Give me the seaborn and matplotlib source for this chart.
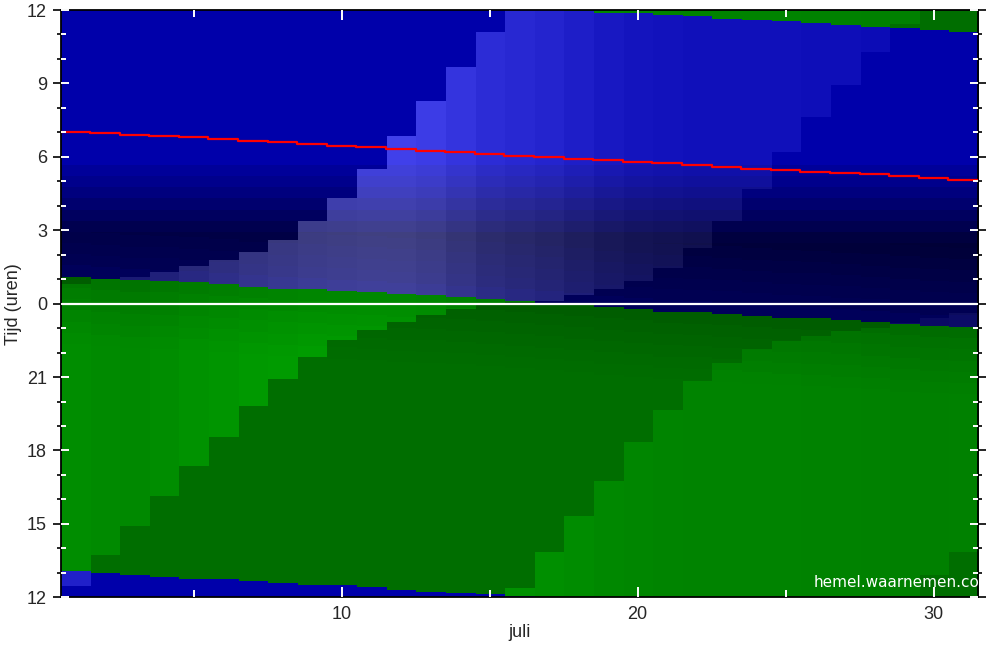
import numpy as np
import seaborn as sns
import matplotlib.pyplot as plt

# ----------------------------
# Data (juli, one column per day)
# hours on a 12..36 axis: 24 = midnight, 36 = noon next day
# ----------------------------
dagen = np.arange(1, 32)

# sun up / down (green = sun above horizon)
zon_op = [13.06, 12.98, 12.90, 12.82, 12.74, 12.72, 12.64, 12.56, 12.50, 12.47,
          12.39, 12.30, 12.22, 12.16, 12.12, 12.05, 11.97, 11.92, 11.85, 11.82,
          11.76, 11.70, 11.60, 11.57, 11.49, 11.41, 11.33, 11.26, 11.22, 11.16, 11.08]
zon_onder = [25.08, 25.00, 24.92, 24.90, 24.84, 24.76, 24.67, 24.59, 24.56, 24.49,
             24.43, 24.35, 24.32, 24.25, 24.18, 24.10, 24.02, 23.93, 23.83, 23.75,
             23.65, 23.62, 23.55, 23.47, 23.40, 23.37, 23.30, 23.23, 23.14, 23.07, 23.03]

# moon rise / set (lighter colours = moon above horizon)
maan_op = [12.46, 13.73, 14.89, 16.14, 17.33, 18.55, 19.79, 20.88, 21.81, 22.48,
           22.89, 23.23, 23.50, 23.75, 23.92, 24.05, 24.08, 24.33, 24.57, 24.90,
           25.43, 26.25, 27.36, 28.65, 30.15, 31.58, 32.90, 34.26, 35.40, 12.90, 13.82]
maan_onder = [24.77, 24.97, 25.08, 25.25, 25.49, 25.75, 26.08, 26.58, 27.35, 28.30,
              29.47, 30.82, 32.24, 33.65, 35.08, 12.38, 13.82, 15.32, 16.75, 18.32,
              19.63, 20.81, 21.57, 22.14, 22.45, 22.65, 22.86, 23.00, 23.20, 23.40, 23.60]
# extra brightness of the sky while the moon is up
maan_licht = [32, 28, 26, 32, 40, 46, 52, 56, 60, 62, 64, 64, 60, 52, 44, 40,
              36, 30, 24, 20, 18, 16, 16, 16, 16, 14, 14, 12, 10, 10, 12]

# red line (clock hours)
rode_lijn = [7.03, 6.98, 6.90, 6.85, 6.79, 6.72, 6.65, 6.60, 6.52, 6.45, 6.40,
             6.30, 6.25, 6.18, 6.11, 6.05, 6.00, 5.93, 5.87, 5.78, 5.73, 5.67,
             5.60, 5.52, 5.47, 5.40, 5.33, 5.28, 5.20, 5.13, 5.06]

y_ticks = [12, 15, 18, 21, 24, 27, 30, 33, 36]
y_labels = ["12", "15", "18", "21", "0", "3", "6", "9", "12"]
x_ticks = [10, 20, 30]
x_minor = [5, 15, 25]

# ----------------------------
# Build the colour image
# ----------------------------
t = np.arange(12, 36, 0.01) + 0.005
img = np.zeros((len(t), len(dagen), 3))

# night sky darkness: evening (hours after sunset) and morning (clock)
avond_t = [0.0, 0.5, 1.5, 3.0, 6.0]
avond_b = [90, 82, 74, 56, 44]
ochtend_t = [12, 15, 22, 26.0, 27.0, 27.4, 28.2, 28.7, 29.6, 30.1, 36]
ochtend_b = [170, 170, 44, 44, 66, 82, 108, 126, 152, 170, 170]
stap = 0.46

for i in range(len(dagen)):
    sr, ss = zon_op[i], zon_onder[i]
    if sr >= 12:
        dag = (t >= sr) & (t <= ss)
    else:
        dag = (t <= ss) | (t >= sr + 24)

    mo, mn = maan_op[i], maan_onder[i]
    if mo < mn:
        maan = (t >= mo) & (t <= mn)
    else:
        maan = (t <= mn) | (t >= mo)
    m = maan.astype(float)
    licht = maan_licht[i]

    # night (blue), gradient drawn in small bands
    tq = np.ceil((t - 29.65) / stap) * stap + 29.65
    aq = np.floor((t - ss) / stap) * stap
    b_base = np.maximum(np.interp(aq, avond_t, avond_b),
                        np.interp(tq, ochtend_t, ochtend_b))
    b_base = np.where(t < ss, 170, b_base)
    nr = licht * m
    nb = np.clip(b_base + licht * m, 0, 255)

    # day (green), a little darker just before sunset
    vq = np.floor((ss - t) / stap) * stap
    f = np.where(t <= ss, np.interp(vq, [0, 0.5, 2.5], [0.85, 0.89, 1.0]), 1.0)
    g = (110 + (12 + 0.6 * licht) * m) * f

    img[:, i, 0] = np.where(dag, 0, nr)
    img[:, i, 1] = np.where(dag, g, nr)
    img[:, i, 2] = np.where(dag, 0, nb)

img = np.clip(img / 255.0, 0, 1)

# ----------------------------
# Styling
# ----------------------------
sns.set_style("white")
plt.rcParams["font.family"] = ["Liberation Sans", "DejaVu Sans"]

fig = plt.figure(figsize=(10, 6.5), dpi=100)
pos = [0.0605, 0.0811, 0.9175, 0.9035]
ax = fig.add_axes(pos)

ax.imshow(img, extent=[0.5, 31.5, 12, 36], origin="lower",
          aspect="auto", interpolation="nearest", zorder=0)

# midnight line
ax.axhline(24, color="white", lw=1.6, zorder=2)

# red line as steps over each day
randen = np.append(dagen - 0.5, dagen[-1] + 0.5)
rood = np.append(rode_lijn, rode_lijn[-1]) + 24
sns.lineplot(x=randen, y=rood, drawstyle="steps-post", color="#ff0000",
             lw=1.6, ax=ax, legend=False, zorder=3)

ax.set_xlim(0.5, 31.5)
ax.set_ylim(12, 36)
ax.set_xticks(x_ticks)
ax.set_xticklabels([str(v) for v in x_ticks])
ax.set_yticks(y_ticks)
ax.set_yticklabels(y_labels)
ax.set_yticks(range(12, 37), minor=True)

ax.tick_params(axis="x", which="both", length=0, pad=6, labelsize=13)
ax.tick_params(axis="y", which="major", direction="out", length=5.8,
               width=1.2, color="black", left=True, right=True,
               labelsize=13, pad=4)
ax.tick_params(axis="y", which="minor", direction="out", length=3.0,
               width=1.2, color="black", left=True, right=True)

for s in ax.spines.values():
    s.set_color("black")
    s.set_linewidth(1.3)

ax.set_xlabel("juli", fontsize=13)
ax.set_ylabel("Tijd (uren)", fontsize=13)
ax.xaxis.set_label_coords(0.5, -0.046)
ax.yaxis.set_label_coords(-0.042, 0.5)

ax.text(0.8205, 0.018, "hemel.waarnemen.com", transform=ax.transAxes,
        color="white", fontsize=11, family="DejaVu Sans",
        va="baseline", ha="left", clip_on=True, zorder=4)

# white inner ticks on an overlay
ax2 = fig.add_axes(pos, frameon=False)
ax2.patch.set_alpha(0)
ax2.set_xlim(0.5, 31.5)
ax2.set_ylim(12, 36)
ax2.set_xticks(x_ticks)
ax2.set_xticks(x_minor, minor=True)
ax2.set_yticks(y_ticks)
ax2.set_yticks(range(12, 37), minor=True)
ax2.tick_params(which="both", direction="in", color="white", width=1.4,
                top=True, right=True, bottom=True, left=True,
                labelleft=False, labelbottom=False)
ax2.tick_params(axis="x", which="major", length=7.2)
ax2.tick_params(axis="x", which="minor", length=5.0)
ax2.tick_params(axis="y", which="major", length=6.0)
ax2.tick_params(axis="y", which="minor", length=3.3)

plt.savefig("out.png", dpi=100)
plt.close()
